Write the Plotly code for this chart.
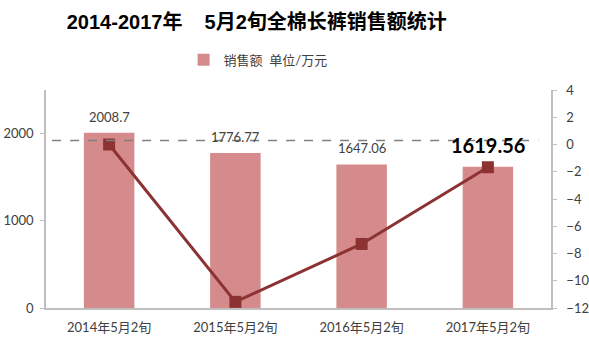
import plotly.graph_objects as go

categories = ["2014年5月2旬", "2015年5月2旬", "2016年5月2旬", "2017年5月2旬"]
sales = [2008.7, 1776.77, 1647.06, 1619.56]
growth = [0.0, -11.55, -7.30, -1.67]
sales_labels = ["2008.7", "1776.77", "1647.06", "1619.56"]
ref_line_value = 0.3

BAR_COLOR = "#D58B8B"
LINE_COLOR = "#8C3232"
AXIS_COLOR = "#BFBFBF"
TEXT_COLOR = "#404040"
FONT = "Lato, 'Noto Sans CJK SC', sans-serif"

fig = go.Figure()
fig.add_trace(go.Bar(
    x=categories, y=sales, name="销售额  单位/万元",
    marker=dict(color=BAR_COLOR, line=dict(width=0)),
    width=0.4, yaxis="y", showlegend=True,
))
fig.add_trace(go.Scatter(
    x=categories, y=growth, yaxis="y2", mode="lines+markers",
    line=dict(color=LINE_COLOR, width=3),
    marker=dict(symbol="square", size=12, color=LINE_COLOR),
    showlegend=False,
))

annotations = []
for i, (c, v, t) in enumerate(zip(categories, sales, sales_labels)):
    last = i == len(categories) - 1
    annotations.append(dict(
        x=c, y=v, xref="x", yref="y", text=f"<b>{t}</b>" if last else t,
        showarrow=False, yanchor="bottom", yshift=6 if not last else 8,
        font=dict(family=FONT, size=20 if last else 13,
                  color="#000000" if last else TEXT_COLOR),
    ))

fig.update_layout(
    width=589, height=351,
    margin=dict(l=46, r=38, t=90, b=43, autoexpand=False),
    paper_bgcolor="white", plot_bgcolor="white",
    title=dict(
        text="<b>2014-2017年\u00a0\u00a0\u00a0\u00a05月2旬全棉长裤销售额统计</b>",
        x=0.436, xanchor="center", y=0.937, yanchor="middle",
        font=dict(family="'Liberation Sans', 'Noto Sans CJK SC', sans-serif", size=20, color="#000000"),
    ),
    legend=dict(
        orientation="h", x=0.42, xanchor="center", y=1.138, yanchor="middle",
        font=dict(family=FONT, size=13, color=TEXT_COLOR),
        bgcolor="rgba(0,0,0,0)",
    ),
    bargap=0.6,
    xaxis=dict(
        automargin=False,
        showline=True, linecolor=AXIS_COLOR, linewidth=1.5,
        ticks="", showgrid=False, zeroline=False, ticklabelstandoff=7,
        tickfont=dict(family=FONT, size=13, color=TEXT_COLOR),
    ),
    yaxis=dict(
        automargin=False,
        range=[0, 2500], tickvals=[0, 1000, 2000],
        showline=True, linecolor=AXIS_COLOR, linewidth=1.5,
        ticks="outside", ticklen=4, tickcolor=AXIS_COLOR, ticklabelstandoff=4,
        showgrid=False, zeroline=False,
        tickfont=dict(family=FONT, size=13, color=TEXT_COLOR),
    ),
    yaxis2=dict(
        automargin=False,
        range=[-12, 4], dtick=2, overlaying="y", side="right",
        showline=True, linecolor=AXIS_COLOR, linewidth=1.5,
        ticks="outside", ticklen=4, tickcolor=AXIS_COLOR, ticklabelstandoff=7,
        showgrid=False, zeroline=False,
        tickfont=dict(family=FONT, size=13, color=TEXT_COLOR),
    ),
    shapes=[dict(
        type="line", xref="paper", yref="y2", x0=0.012, x1=0.975,
        y0=ref_line_value, y1=ref_line_value,
        line=dict(color="#808080", width=1.5, dash="dash"),
        layer="above",
    )],
    annotations=annotations,
)

fig.write_html("out.html")
